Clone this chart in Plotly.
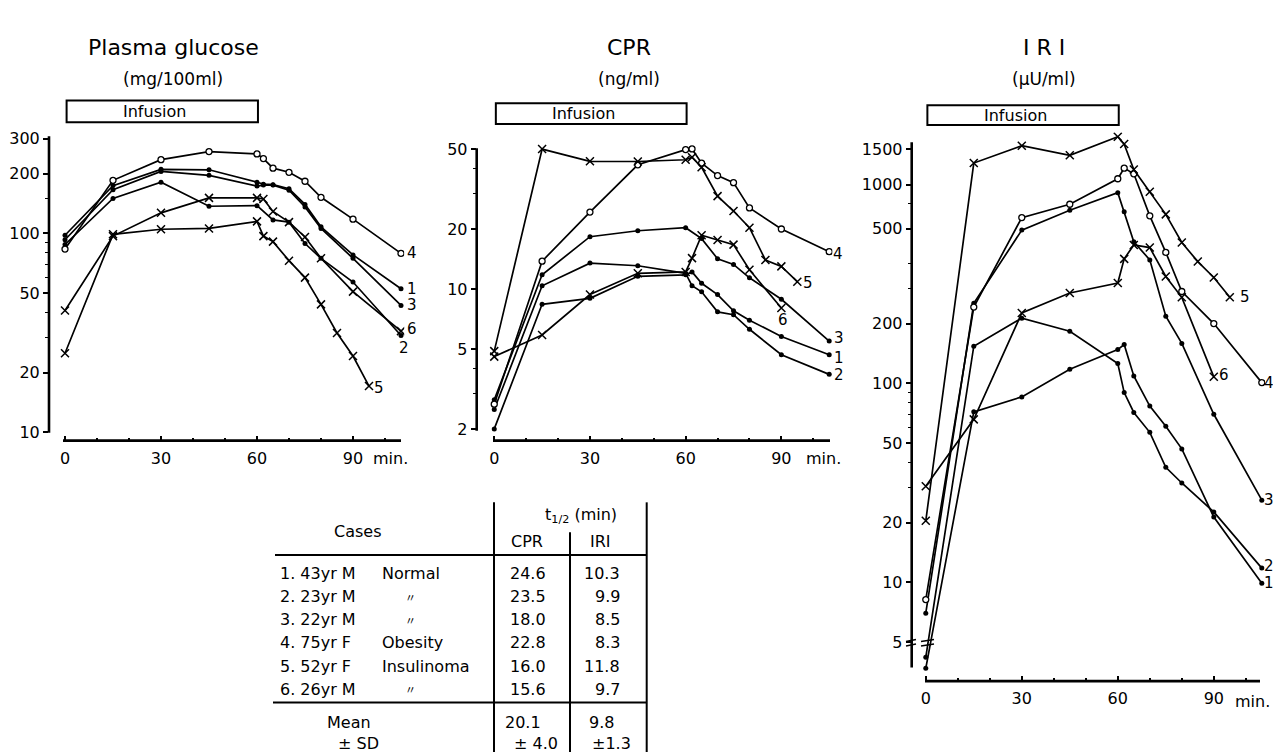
import numpy as np
import plotly.graph_objects as go

W, H = 1273, 753
FONT = "DejaVu Sans"

# ------------------------------------------------------------------ data
# sampling times (min)
t_std = [0, 15, 30, 45, 60, 62, 65, 70, 75, 80, 90, 105]
t_ext = [0, 15, 30, 45, 60, 62, 65, 70, 75, 80, 85, 90, 95]
t_short = [0, 15, 30, 45, 60, 62, 65, 70, 75, 80, 90]
t_no62 = [0, 15, 30, 45, 60, 65, 70, 75, 80, 90, 105]

# Plasma glucose (mg/100ml)
glu_1 = [98, 174, 210, 209, 181, 177, 176, 168, 140, 108, 78, 52.7]
glu_2 = [88, 150, 181, 137, 138, 117, 114, 89, 75, 57, 30.7]
glu_3 = [93, 166, 205, 196, 173, 175, 175, 165, 136, 106, 75, 43.5]
glu_4 = [83.5, 185, 235, 258, 251, 238, 213, 203, 183, 152, 118, 79.4]
glu_5 = [25, 99, 105, 106, 115, 97, 91, 73, 60, 44, 31.6, 24.2, 17.1]
glu_6 = [41, 97, 127, 151, 151, 149, 129, 114, 96, 75, 51, 32.3]

# CPR (ng/ml)
cpr_1 = [2.0, 8.4, 9.0, 11.6, 11.8, 12.2, 10.7, 9.4, 7.8, 7.0, 5.8, 4.7]
cpr_2 = [2.5, 10.4, 13.5, 13.1, 12.0, 10.4, 9.7, 7.7, 7.45, 6.3, 4.7, 3.75]
cpr_3 = [2.8, 11.8, 18.3, 19.6, 20.3, 17.9, 14.2, 13.3, 11.4, 8.9, 5.5]
cpr_4 = [2.66, 13.8, 24.3, 41.9, 49.9, 50.3, 42.7, 37.0, 34.1, 25.5, 20.0, 15.4]
cpr_5 = [4.9, 50.2, 43.6, 43.5, 44.4, 45.7, 40.7, 29.2, 24.6, 20.3, 14.0, 13.0, 10.9]
cpr_6 = [4.6, 5.9, 9.4, 12.0, 12.2, 14.3, 18.6, 17.6, 16.7, 12.5, 8.05]

# IRI (uU/ml)
iri_1 = [3.7, 72, 85.6, 118, 148, 157, 109, 77, 61, 46.9, 21.3, 9.9]
iri_2 = [4.2, 154, 213, 183, 126, 90, 71.5, 56.8, 37.9, 31.6, 22.6, 11.8]
iri_3 = [7.0, 253, 590, 743, 910, 729, 516, 418, 218, 159, 70, 25.9]
iri_4 = [8.2, 242, 682, 796, 1069, 1209, 1132, 696, 456, 290, 200, 101]
iri_5 = [20.4, 1282, 1567, 1402, 1740, 1597, 1189, 919, 708, 511, 410, 341, 271]
iri_6 = [30.4, 66, 226, 285, 320, 423, 497, 482, 345, 271, 108]

# tick labels
glu_ticks = [10, 20, 50, 100, 200, 300]
cpr_ticks = [2, 5, 10, 20, 50]
iri_tickvals = [5, 10, 20, 50, 100, 200, 600, 1000, 1500]
iri_ticktext = ["5", "10", "20", "50", "100", "200", "500", "1000", "1500"]
x_ticks = [0, 30, 60, 90]

# table
cases = ["1. 43yr M", "2. 23yr M", "3. 22yr M", "4. 75yr F", "5. 52yr F", "6. 26yr M"]
conditions = ["Normal", "〃", "〃", "Obesity", "Insulinoma", "〃"]
cpr_half = ["24.6", "23.5", "18.0", "22.8", "16.0", "15.6"]
iri_half = ["10.3", "9.9", "8.5", "8.3", "11.8", "9.7"]
mean_half = ["20.1", "9.8"]
sd_half = ["± 4.0", "±1.3"]

# ------------------------------------------------------------------ helpers
def px(x):
    return x / W


def py(y):
    return 1 - y / H


fig = go.Figure()

panels = [
    dict(key="1", title="Plasma glucose", unit="(mg/100ml)", tcx=173,
         xdom=(49, 404.2), ydom=(130, 440), xr=[-5, 106], yr=[0.9585, 2.5085],
         tickvals=glu_ticks, ticktext=[str(v) for v in glu_ticks],
         minor=[30, 40, 60, 70, 80, 90, 150],
         series=[(t_std, glu_1), (t_no62, glu_2), (t_std, glu_3),
                 (t_std, glu_4), (t_ext, glu_5), (t_std, glu_6)],
         yline=(49, 134, 432), xline=(440, 63, 401), box=(98, 120),
         minx=390, miny=458,
         lab={"1": (4, 0), "2": (-4, -13), "3": (4, 0), "4": (4, 0), "5": (3, -2), "6": (4, 2)}),
    dict(key="2", title="CPR", unit="(ng/ml)", tcx=629,
         xdom=(476.7, 832.4), ydom=(130, 440), xr=[-5.5, 106], yr=[0.2423, 1.7846],
         tickvals=cpr_ticks, ticktext=[str(v) for v in cpr_ticks],
         minor=[3, 4, 30, 40],
         series=[(t_std, cpr_1), (t_std, cpr_2), (t_no62, cpr_3),
                 (t_std, cpr_4), (t_ext, cpr_5), (t_short, cpr_6)],
         yline=(476.7, 146, 430), xline=(440, 493, 830), box=(100.7, 121.7),
         minx=823, miny=458,
         lab={"1": (3, -3), "2": (3, -1), "3": (3, 3), "4": (2, -2), "5": (4, -1), "6": (-5, -12)}),
    dict(key="3", title="I R I", unit="(μU/ml)", tcx=1044,
         xdom=(911.7, 1265), ydom=(130, 681.7), xr=[-4.4, 106], yr=[0.504, 3.2625],
         tickvals=iri_tickvals, ticktext=iri_ticktext,
         minor=[30, 40, 60, 70, 80, 90, 300, 400, 800],
         series=[(t_std, iri_1), (t_std, iri_2), (t_std, iri_3),
                 (t_std, iri_4), (t_ext, iri_5), (t_short, iri_6)],
         yline=(911.7, 140, 668), xline=(681.7, 925, 1260), box=(102.7, 122.7),
         minx=1252, miny=702,
         lab={"1": (0, 0), "2": (0, 2), "3": (0, 0), "4": (0, 0), "5": (8, 0), "6": (3, 2)}),
]

shapes = []
annotations = []
lw_axis = 2.6

for p in panels:
    k = p["key"]
    xa = "x" if k == "1" else "x" + k
    ya = "y" if k == "1" else "y" + k
    for i, (tt, vv) in enumerate(p["series"]):
        n = i + 1
        if n in (1, 2, 3):
            marker = dict(symbol="circle", size=5, color="black")
        elif n == 4:
            marker = dict(symbol="circle", size=6, color="white",
                          line=dict(color="black", width=1.3))
        else:
            marker = dict(symbol="x-thin-open", size=8,
                          line=dict(color="black", width=1.5), color="black")
        fig.add_trace(go.Scatter(
            x=tt, y=vv, mode="lines+markers", xaxis=xa, yaxis=ya,
            line=dict(color="black", width=1.7), marker=marker,
            name=f"{n}", showlegend=False, hoverinfo="x+y"))
        dx, dy = p["lab"][str(n)]
        annotations.append(dict(
            x=tt[-1], y=float(np.log10(vv[-1])), xref=xa, yref=ya,
            text=str(n), showarrow=False, xanchor="left", yanchor="middle",
            xshift=dx, yshift=dy, font=dict(family=FONT, size=15, color="black")))

    lay_x = "xaxis" if k == "1" else "xaxis" + k
    lay_y = "yaxis" if k == "1" else "yaxis" + k
    fig.layout[lay_x] = dict(
        domain=[px(p["xdom"][0]), px(p["xdom"][1])], range=p["xr"], anchor=ya,
        showline=False, showgrid=False, zeroline=False,
        tickvals=x_ticks, ticks="inside", ticklen=5, tickwidth=2, tickcolor="black",
        ticklabelstandoff=6,
        minor=dict(tickvals=[10, 20, 40, 50, 70, 80, 100], ticks="inside",
                   ticklen=3, tickwidth=1.5, tickcolor="black"),
        tickfont=dict(family=FONT, size=16, color="black"), fixedrange=True)
    fig.layout[lay_y] = dict(
        type="log", domain=[py(p["ydom"][1]), py(p["ydom"][0])], range=p["yr"], anchor=xa,
        showline=False, showgrid=False, zeroline=False,
        tickvals=p["tickvals"], ticktext=p["ticktext"],
        ticks="outside", ticklen=5, tickwidth=2, tickcolor="black",
        minor=dict(tickvals=p["minor"], ticks="outside", ticklen=3,
                   tickwidth=1.2, tickcolor="black"),
        tickfont=dict(family=FONT, size=16, color="black"), fixedrange=True)

    # detached axis lines
    xl, y0, y1 = p["yline"]
    shapes.append(dict(type="line", xref="paper", yref="paper",
                       x0=px(xl), x1=px(xl), y0=py(y0), y1=py(y1),
                       line=dict(color="black", width=lw_axis)))
    yl, x0, x1 = p["xline"]
    shapes.append(dict(type="line", xref="paper", yref="paper",
                       x0=px(x0), x1=px(x1), y0=py(yl), y1=py(yl),
                       line=dict(color="black", width=lw_axis)))
    # infusion box (0 - 60 min)
    b0, b1 = p["box"]
    shapes.append(dict(type="rect", xref=xa, yref="paper", x0=0.5, x1=60.3,
                       y0=py(b1), y1=py(b0), line=dict(color="black", width=2),
                       fillcolor="white"))
    annotations.append(dict(x=28, y=py((b0 + b1) / 2), xref=xa, yref="paper",
                            text="Infusion", showarrow=False, yanchor="middle",
                            font=dict(family=FONT, size=16, color="black")))
    # titles
    annotations.append(dict(x=px(p["tcx"]), y=py(45), xref="paper", yref="paper",
                            text=p["title"], showarrow=False, xanchor="center",
                            yanchor="middle",
                            font=dict(family=FONT, size=22, color="black")))
    annotations.append(dict(x=px(p["tcx"]), y=py(76), xref="paper", yref="paper",
                            text=p["unit"], showarrow=False, xanchor="center",
                            yanchor="middle",
                            font=dict(family=FONT, size=17, color="black")))
    annotations.append(dict(x=px(p["minx"]), y=py(p["miny"]), xref="paper", yref="paper",
                            text="min.", showarrow=False, xanchor="center",
                            yanchor="middle",
                            font=dict(family=FONT, size=16, color="black")))

# axis-break marks on IRI axis and at the baseline data
for (bx0, bx1) in [(906, 916), (921, 934)]:
    for by in (641, 645.5):
        shapes.append(dict(type="line", xref="paper", yref="paper",
                           x0=px(bx0), x1=px(bx1), y0=py(by + 1), y1=py(by - 1),
                           line=dict(color="black", width=1.5)))

# ------------------------------------------------------------------ table
tf = dict(family=FONT, size=16, color="black")


def tx(x, y, text, anchor="center", font=tf):
    annotations.append(dict(x=px(x), y=py(y), xref="paper", yref="paper", text=text,
                            showarrow=False, xanchor=anchor, yanchor="middle", font=font))


tx(358, 531, "Cases")
tx(581, 515, "t<sub>1/2</sub> (min)")
tx(527, 541, "CPR")
tx(600, 541, "IRI")
row_y0, row_dy = 573.5, 23.3
for i in range(len(cases)):
    y = row_y0 + i * row_dy
    tx(278, y, cases[i], "left")
    if conditions[i] == "〃":
        tx(410, y, conditions[i], "center",
           dict(family="Noto Sans CJK JP", size=11, color="black"))
    else:
        tx(380, y, conditions[i], "left")
    tx(528, y, cpr_half[i], "center")
    tx(622, y, iri_half[i], "right")
tx(349, 723, "Mean")
tx(358, 744, "± SD")
tx(503, 723, mean_half[0], "left")
tx(560, 744, sd_half[0], "right")
tx(601, 723, mean_half[1], "center")
tx(633, 744, sd_half[1], "right")

for (x0, x1, y) in [(275, 647, 555), (273, 647, 703.3)]:
    shapes.append(dict(type="line", xref="paper", yref="paper", x0=px(x0), x1=px(x1),
                       y0=py(y), y1=py(y), line=dict(color="black", width=2)))
for (x, y0, y1) in [(494, 502, 753), (570, 532, 753), (646.7, 502, 753)]:
    shapes.append(dict(type="line", xref="paper", yref="paper", x0=px(x), x1=px(x),
                       y0=py(y0), y1=py(y1), line=dict(color="black", width=2)))

fig.update_layout(
    width=W, height=H, margin=dict(l=0, r=0, t=0, b=0),
    paper_bgcolor="white", plot_bgcolor="rgba(0,0,0,0)",
    shapes=shapes, annotations=annotations, showlegend=False,
    font=dict(family=FONT, color="black"),
)

fig.write_html("out.html",
               config={"displayModeBar": False},
               post_script="document.body.style.margin='0px';"
                           "document.body.style.overflow='hidden';")
